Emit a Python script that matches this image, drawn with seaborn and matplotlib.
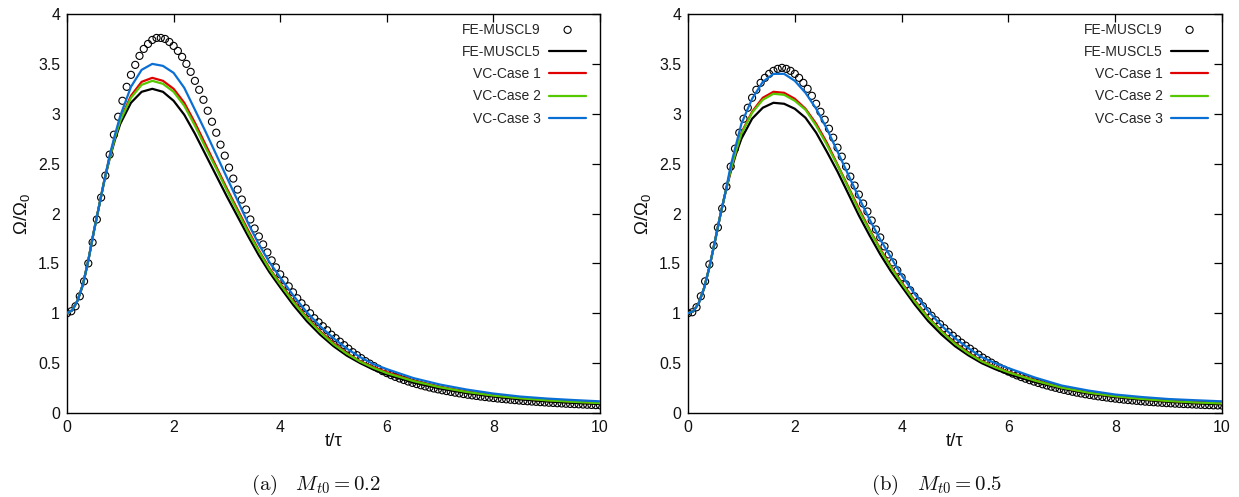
import numpy as np
import matplotlib
matplotlib.use("Agg")
import matplotlib.pyplot as plt
import seaborn as sns

# ---------------- data ----------------
series_labels = ["FE-MUSCL9", "FE-MUSCL5", "VC-Case 1", "VC-Case 2", "VC-Case 3"]
x_ticks = [0, 2, 4, 6, 8, 10]
x_tick_labels = ["0", "2", "4", "6", "8", "10"]
y_ticks = [0, 0.5, 1, 1.5, 2, 2.5, 3, 3.5, 4]
y_tick_labels = ["0", "0.5", "1", "1.5", "2", "2.5", "3", "3.5", "4"]
captions = [r"$\mathrm{(a)}\quad M_{t0} = 0.2$", r"$\mathrm{(b)}\quad M_{t0} = 0.5$"]

# time samples of the solid curves
t_line = [0.0, 0.1, 0.2, 0.3, 0.4, 0.5, 0.6, 0.7, 0.8, 0.9, 1.0, 1.2, 1.4, 1.6, 1.8,
          2.0, 2.2, 2.4, 2.6, 2.8, 3.0, 3.2, 3.4, 3.6, 3.8, 4.0, 4.25, 4.5, 4.75,
          5.0, 5.25, 5.5, 5.75, 6.0, 6.5, 7.0, 7.5, 8.0, 8.5, 9.0, 9.5, 10.0]
# time samples of the FE-MUSCL9 symbols (every 0.08)
t_circ = np.round(np.arange(126) * 0.08, 2)

# ---- panel (a) M_t0 = 0.2 ----
a_muscl5 = [1.00, 1.03, 1.13, 1.29, 1.53, 1.81, 2.07, 2.33,
            2.55, 2.74, 2.90, 3.11, 3.22, 3.25, 3.22, 3.13, 2.99, 2.80, 2.59, 2.38,
            2.17, 1.97, 1.77, 1.58, 1.41, 1.26, 1.08, 0.92, 0.785,
            0.67, 0.575, 0.50, 0.435, 0.385,
            0.305, 0.245, 0.20, 0.165, 0.137, 0.116, 0.101, 0.09]
a_case1 = [1.00, 1.03, 1.13, 1.29, 1.53, 1.81, 2.07, 2.33,
           2.57, 2.77, 2.94, 3.18, 3.32, 3.36, 3.33, 3.25, 3.11, 2.91, 2.69, 2.47,
           2.25, 2.04, 1.83, 1.63, 1.45, 1.30, 1.12, 0.96, 0.82,
           0.70, 0.60, 0.52, 0.46, 0.41,
           0.325, 0.262, 0.215, 0.178, 0.15, 0.13, 0.115, 0.10]
a_case2 = [1.00, 1.03, 1.13, 1.29, 1.53, 1.81, 2.07, 2.33,
           2.56, 2.76, 2.93, 3.16, 3.29, 3.33, 3.30, 3.22, 3.08, 2.88, 2.66, 2.45,
           2.23, 2.02, 1.81, 1.62, 1.44, 1.29, 1.11, 0.95, 0.81,
           0.69, 0.595, 0.515, 0.452, 0.40,
           0.32, 0.258, 0.211, 0.175, 0.148, 0.127, 0.112, 0.099]
a_case3 = [1.00, 1.03, 1.13, 1.29, 1.53, 1.81, 2.07, 2.33,
           2.58, 2.79, 2.98, 3.27, 3.44, 3.50, 3.48, 3.41, 3.26, 3.04, 2.82, 2.59,
           2.36, 2.13, 1.90, 1.69, 1.51, 1.36, 1.175, 1.01, 0.87,
           0.75, 0.645, 0.56, 0.49, 0.44,
           0.35, 0.285, 0.235, 0.195, 0.165, 0.145, 0.13, 0.117]
a_muscl9 = [1.00, 1.02, 1.07, 1.17, 1.32, 1.50, 1.71, 1.94, 2.16, 2.38,
            2.59, 2.79, 2.97, 3.13, 3.27, 3.39, 3.49, 3.58, 3.65, 3.70,
            3.74, 3.76, 3.76, 3.75, 3.72, 3.68, 3.63, 3.57, 3.50, 3.42,
            3.33, 3.24, 3.14, 3.03, 2.92, 2.81, 2.69, 2.58, 2.46, 2.35,
            2.24, 2.14, 2.04, 1.94, 1.85, 1.77, 1.69, 1.61, 1.53, 1.46,
            1.39, 1.33, 1.27, 1.21, 1.15, 1.10, 1.05, 1.00, 0.95, 0.91,
            0.87, 0.83, 0.785, 0.75, 0.715, 0.68, 0.645, 0.61, 0.58, 0.55,
            0.52, 0.495, 0.47, 0.445, 0.42, 0.40, 0.38, 0.362, 0.346, 0.331,
            0.316, 0.302, 0.29, 0.278, 0.267, 0.256, 0.246, 0.237, 0.228, 0.22,
            0.212, 0.204, 0.197, 0.19, 0.183, 0.177, 0.171, 0.165, 0.16, 0.155,
            0.15, 0.145, 0.141, 0.137, 0.133, 0.129, 0.125, 0.121, 0.118, 0.115,
            0.112, 0.109, 0.106, 0.103, 0.101, 0.098, 0.096, 0.093, 0.091, 0.089,
            0.087, 0.085, 0.083, 0.081, 0.079, 0.077]

# ---- panel (b) M_t0 = 0.5 ----
b_muscl5 = [1.00, 1.02, 1.10, 1.25, 1.46, 1.71, 1.97, 2.21,
            2.42, 2.60, 2.75, 2.95, 3.06, 3.11, 3.10, 3.05, 2.96, 2.81, 2.62, 2.42,
            2.20, 1.98, 1.78, 1.59, 1.42, 1.27, 1.085, 0.92, 0.785,
            0.67, 0.578, 0.50, 0.44, 0.39,
            0.31, 0.245, 0.195, 0.16, 0.133, 0.112, 0.097, 0.087]
b_case1 = [1.00, 1.02, 1.10, 1.25, 1.46, 1.71, 1.97, 2.21,
           2.44, 2.63, 2.81, 3.02, 3.16, 3.22, 3.21, 3.15, 3.05, 2.90, 2.71, 2.49,
           2.27, 2.05, 1.84, 1.645, 1.47, 1.31, 1.125, 0.957, 0.82,
           0.70, 0.603, 0.522, 0.462, 0.412,
           0.327, 0.256, 0.206, 0.169, 0.143, 0.122, 0.108, 0.098]
b_case2 = [1.00, 1.02, 1.10, 1.25, 1.46, 1.71, 1.97, 2.21,
           2.44, 2.63, 2.80, 3.01, 3.14, 3.20, 3.19, 3.13, 3.04, 2.88, 2.69, 2.48,
           2.26, 2.03, 1.83, 1.635, 1.46, 1.30, 1.115, 0.95, 0.815,
           0.694, 0.598, 0.518, 0.458, 0.408,
           0.324, 0.254, 0.204, 0.168, 0.141, 0.12, 0.106, 0.096]
b_case3 = [1.00, 1.02, 1.10, 1.25, 1.46, 1.71, 1.97, 2.21,
           2.48, 2.69, 2.90, 3.15, 3.32, 3.40, 3.40, 3.33, 3.21, 3.05, 2.85, 2.62,
           2.39, 2.16, 1.94, 1.74, 1.56, 1.38, 1.19, 1.02, 0.875,
           0.75, 0.65, 0.56, 0.50, 0.45,
           0.355, 0.275, 0.225, 0.185, 0.16, 0.14, 0.128, 0.117]
b_muscl9 = [1.00, 1.01, 1.06, 1.17, 1.32, 1.49, 1.68, 1.86, 2.05, 2.27,
            2.47, 2.65, 2.81, 2.95, 3.06, 3.16, 3.24, 3.31, 3.36, 3.40,
            3.43, 3.45, 3.46, 3.45, 3.43, 3.40, 3.36, 3.31, 3.25, 3.18,
            3.10, 3.02, 2.94, 2.85, 2.76, 2.66, 2.57, 2.47, 2.37, 2.28,
            2.19, 2.10, 2.02, 1.93, 1.84, 1.76, 1.67, 1.59, 1.51, 1.43,
            1.36, 1.29, 1.23, 1.17, 1.12, 1.07, 1.02, 0.975, 0.93, 0.89,
            0.85, 0.81, 0.775, 0.74, 0.705, 0.675, 0.645, 0.615, 0.585, 0.555,
            0.53, 0.505, 0.48, 0.455, 0.435, 0.415, 0.395, 0.377, 0.36, 0.344,
            0.329, 0.315, 0.301, 0.288, 0.276, 0.264, 0.253, 0.242, 0.232, 0.222,
            0.213, 0.204, 0.196, 0.188, 0.181, 0.174, 0.167, 0.161, 0.155, 0.149,
            0.144, 0.139, 0.134, 0.13, 0.126, 0.122, 0.118, 0.114, 0.111, 0.108,
            0.105, 0.102, 0.099, 0.097, 0.094, 0.092, 0.09, 0.088, 0.086, 0.084,
            0.082, 0.08, 0.079, 0.077, 0.076, 0.075]

line_colors = ["#000000", "#e00000", "#55c800", "#0a6fd4"]

# ---------------- style ----------------
sns.set_theme(style="white")
plt.rcParams["font.family"] = ["Liberation Sans", "DejaVu Sans"]
plt.rcParams["mathtext.fontset"] = "custom"
plt.rcParams["mathtext.rm"] = "Liberation Sans"
plt.rcParams["mathtext.it"] = "Liberation Sans:italic"

W, H = 1239, 497
fig = plt.figure(figsize=(W / 100, H / 100), dpi=100)
fig.patch.set_facecolor("white")

panels = [
    (67, 600, a_muscl9, [a_muscl5, a_case1, a_case2, a_case3], captions[0], 316),
    (688, 1222, b_muscl9, [b_muscl5, b_case1, b_case2, b_case3], captions[1], 937),
]
top_px, bot_px = 14, 413
ah = bot_px - top_px

for left_px, right_px, m9, lines, cap, cap_x in panels:
    aw = right_px - left_px
    ax = fig.add_axes([left_px / W, 1 - bot_px / H, aw / W, ah / H])
    sns.scatterplot(x=t_circ, y=m9, ax=ax, marker="o", s=26, facecolor="none",
                    edgecolor="black", linewidth=0.8, label=series_labels[0], zorder=2)
    for vals, col, lab in zip(lines, line_colors, series_labels[1:]):
        sns.lineplot(x=t_line, y=vals, ax=ax, color=col, linewidth=1.6,
                     label=lab, sort=False, zorder=3)
    ax.set_xlim(0, 10)
    ax.set_ylim(0, 4)
    ax.set_xticks(x_ticks)
    ax.set_xticklabels(x_tick_labels)
    ax.set_yticks(y_ticks)
    ax.set_yticklabels(y_tick_labels)
    ax.tick_params(direction="in", top=True, right=True, length=5.5, width=0.9,
                   labelsize=11.4, colors="black", labelcolor="#111111")
    ax.tick_params(axis="x", pad=5)
    ax.tick_params(axis="y", pad=5)
    for s in ax.spines.values():
        s.set_color("black")
        s.set_linewidth(1.0)
    ax.grid(False)
    ax.set_xlabel("t/τ", fontsize=13.5, color="#111111")
    ax.set_ylabel(r"$\Omega/\Omega_0$", fontsize=13.5, color="#111111")
    ax.yaxis.set_label_coords(-(67 - 32) / aw, 0.5)
    ax.xaxis.set_label_coords(0.5, -(433 - 413) / ah)

    handles, labels = ax.get_legend_handles_labels()
    order = [labels.index(l) for l in series_labels]
    ax.legend([handles[i] for i in order], [labels[i] for i in order],
              loc="upper right", bbox_to_anchor=(1 - 14 / aw, 1 - 8.5 / ah),
              frameon=False, markerfirst=False, fontsize=10, handlelength=2.65,
              handletextpad=0.6, labelspacing=0.6, borderpad=0, borderaxespad=0)

    fig.text(cap_x / W, 1 - 485 / H, cap, ha="center", va="center",
             fontsize=15, math_fontfamily="cm", color="#111111")

fig.savefig("out.png", dpi=100, facecolor="white")
